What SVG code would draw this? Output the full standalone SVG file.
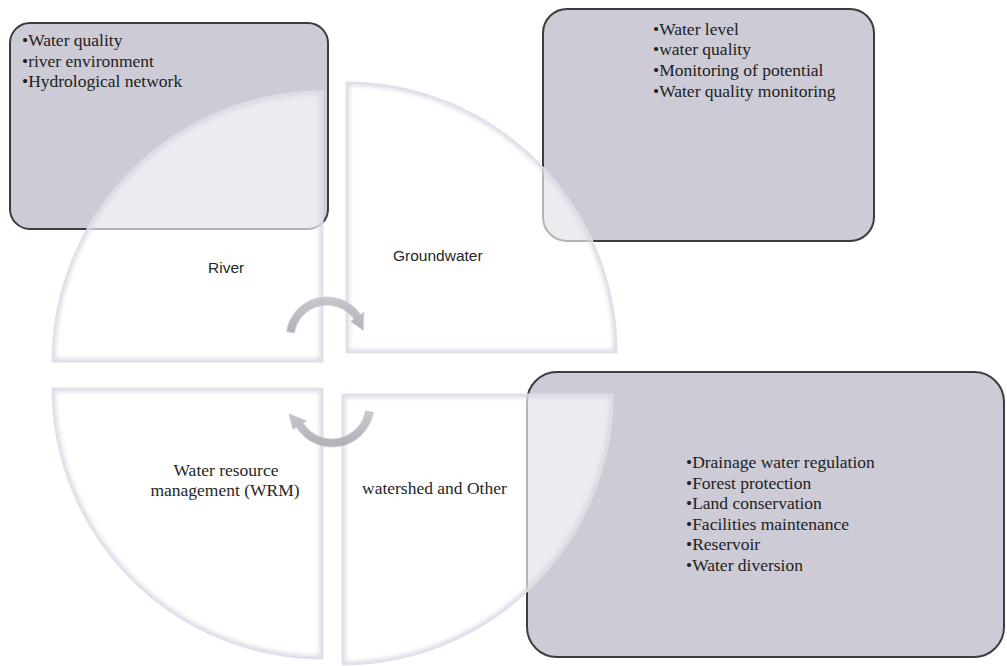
<svg xmlns="http://www.w3.org/2000/svg" width="1007" height="666" viewBox="0 0 1007 666">
<style>
.box{fill:#cccbd6;stroke:#3c3c40;stroke-width:2}
.bt{font-family:"Liberation Serif","Times New Roman",serif;font-size:17.5px;fill:#222222}
.ql{font-family:"Liberation Serif","Times New Roman",serif;font-size:17.5px;fill:#262626}
.qs{font-family:"Liberation Sans",Arial,sans-serif;font-size:15.5px;fill:#262626}
.qfill{fill:#ffffff;fill-opacity:0.62;stroke:none}
.qbevel{fill:none;stroke:#d6d5e4;stroke-width:7;opacity:0.85;filter:url(#soft)}
.qedge{fill:none;stroke:#e0e0e7;stroke-width:1}
.arrow{fill:url(#ag);stroke:#c6c6ce;stroke-width:0.8;opacity:0.9}
</style>
<defs>
<filter id="soft" x="-10%" y="-10%" width="120%" height="120%"><feGaussianBlur stdDeviation="2.2"/></filter>
<linearGradient id="ag" x1="0" y1="0" x2="0" y2="1">
<stop offset="0" stop-color="#c2c2ca"/><stop offset="1" stop-color="#a9a9b2"/>
</linearGradient>
<path id="pTL" d="M323,362 L52,362 A271,271 0 0 1 323,91 Z"/>
<path id="pTR" d="M346,353 L346,82 A271,271 0 0 1 617,353 Z"/>
<path id="pBL" d="M323,388 L323,659 A271,271 0 0 1 52,388 Z"/>
<path id="pBR" d="M342,394 L613,394 A271,271 0 0 1 342,665 Z"/>
<clipPath id="cTL"><use href="#pTL"/></clipPath>
<clipPath id="cTR"><use href="#pTR"/></clipPath>
<clipPath id="cBL"><use href="#pBL"/></clipPath>
<clipPath id="cBR"><use href="#pBR"/></clipPath>
</defs>
<rect width="1007" height="666" fill="#ffffff"/>

<g id="box-river">
<rect class="box" x="10" y="23" width="318" height="206" rx="20"/>
<text class="bt" x="22" y="46">•Water quality</text>
<text class="bt" x="22" y="66.5">•river environment</text>
<text class="bt" x="22" y="87">•Hydrological network</text>
</g>
<g id="box-groundwater">
<rect class="box" x="543" y="9" width="331" height="232" rx="24"/>
<text class="bt" x="653" y="34.5">•Water level</text>
<text class="bt" x="653" y="55.3">•water quality</text>
<text class="bt" x="653" y="76">•Monitoring of potential</text>
<text class="bt" x="653" y="96.8">•Water quality monitoring</text>
</g>
<g id="box-watershed">
<rect class="box" x="527" y="372" width="477" height="285" rx="30"/>
<text class="bt" x="686" y="467.5">•Drainage  water regulation</text>
<text class="bt" x="686" y="488.5">•Forest protection</text>
<text class="bt" x="686" y="509">•Land conservation</text>
<text class="bt" x="686" y="529.5">•Facilities maintenance</text>
<text class="bt" x="686" y="550">•Reservoir</text>
<text class="bt" x="686" y="570.5">•Water diversion</text>
</g>

<g id="q-river">
<use href="#pTL" class="qfill"/>
<g clip-path="url(#cTL)"><use href="#pTL" class="qbevel"/></g>
<use href="#pTL" class="qedge"/>
<text class="qs" x="208" y="272.5">River</text>
</g>
<g id="q-groundwater">
<use href="#pTR" class="qfill"/>
<g clip-path="url(#cTR)"><use href="#pTR" class="qbevel"/></g>
<use href="#pTR" class="qedge"/>
<text class="qs" x="393" y="260.5">Groundwater</text>
</g>
<g id="q-wrm">
<use href="#pBL" class="qfill"/>
<g clip-path="url(#cBL)"><use href="#pBL" class="qbevel"/></g>
<use href="#pBL" class="qedge"/>
<text class="ql" x="226" y="476" text-anchor="middle">Water resource</text>
<text class="ql" x="225" y="496" text-anchor="middle">management  (WRM)</text>
</g>
<g id="q-watershed">
<use href="#pBR" class="qfill"/>
<g clip-path="url(#cBR)"><use href="#pBR" class="qbevel"/></g>
<use href="#pBR" class="qedge"/>
<text class="ql" x="362" y="494">watershed  and  Other</text>
</g>

<g id="connectors">
<path class="arrow" d="M286.5,331.6 A41,41 0 0 1 360.6,314.5 L363.9,312.2 L363.2,330.3 L350.8,321.4 L354.0,319.1 A33,33 0 0 0 294.4,332.9 Z"/>
<path class="arrow" d="M373.4,412.3 A42,42 0 0 1 296.4,427.3 L293.0,429.4 L289,414 L306.6,420.9 L303.2,423.0 A34,34 0 0 0 365.5,410.9 Z"/>
</g>
</svg>
